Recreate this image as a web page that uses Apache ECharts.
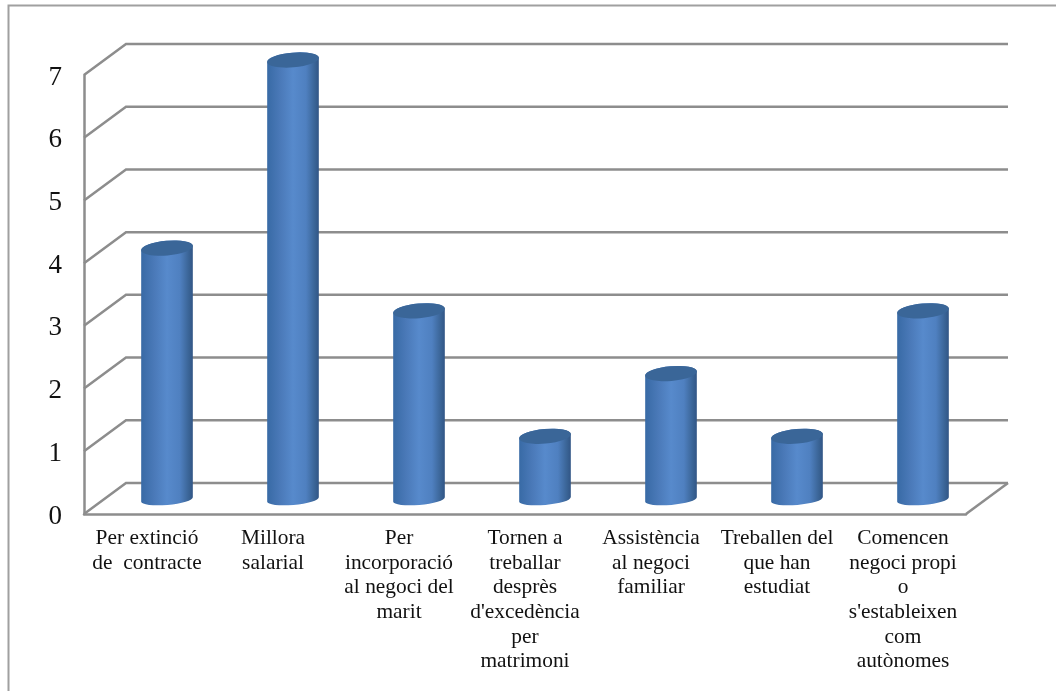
<!DOCTYPE html>
<html><head><meta charset="utf-8">
<style>html,body{margin:0;padding:0;background:#fff}#c{width:1056px;height:691px}</style>
<script src="https://cdn.jsdelivr.net/npm/echarts@6/dist/echarts.min.js"></script>
</head><body><div id="c"></div>
<script>
const categories = ["Per extinció\nde  contracte","Millora\nsalarial","Per\nincorporació\nal negoci del\nmarit","Tornen a\ntreballar\ndesprès\nd'excedència\nper\nmatrimoni","Assistència\nal negoci\nfamiliar","Treballen del\nque han\nestudiat","Comencen\nnegoci propi\no\ns'estableixen\ncom\nautònomes"];
const values = [4,7,3,1,2,1,3];
const yTicks = [0,1,2,3,4,5,6,7];

const FONT = '"Liberation Serif","Times New Roman",serif';
const LINE = '#8d8d8d';
const DX = 42, DY = -31;      // depth of the 3D box
const CX = 20, CY = -15;      // cylinder centre relative to the front plane
const RX = 26, RY = 7, RYB = 5.5, ROT = -5;
const rad = ROT*Math.PI/180;
const ex = RX*Math.cos(rad), ey = RX*Math.sin(rad);
const hw = Math.hypot(RX*Math.cos(rad), RY*Math.sin(rad));
const hh = Math.hypot(RX*Math.sin(rad), RY*Math.cos(rad));
const hhb = Math.hypot(RX*Math.sin(rad), RYB*Math.cos(rad));

const chart = echarts.init(document.getElementById('c'), null, {renderer:'canvas'});
chart.setOption({
  animation:false,
  backgroundColor:'#fff',
  graphic:[{type:'rect',shape:{x:8.5,y:5.5,width:1100,height:750},style:{fill:'none',stroke:'#a0a0a0',lineWidth:2},silent:true}],
  grid:{left:84,top:75,width:882,height:439,containLabel:false},
  xAxis:{type:'category',data:categories,boundaryGap:true,
    axisTick:{show:false},
    axisLine:{show:true,lineStyle:{color:LINE,width:2.5}},
    axisLabel:{interval:0,color:'#111',fontFamily:FONT,fontSize:21.4,lineHeight:24.7,margin:12,align:'center',verticalAlign:'top'}},
  yAxis:{type:'value',min:0,max:7,interval:1,
    axisTick:{show:false},
    axisLine:{show:true,onZero:false,lineStyle:{color:LINE,width:2.5}},
    splitLine:{show:false},
    axisLabel:{color:'#111',fontFamily:FONT,fontSize:27,margin:22,lineHeight:27,verticalAlign:'top',padding:[-11,0,0,0]}},
  series:[
    {type:'custom',coordinateSystem:'cartesian2d',clip:false,z:1,silent:true,
     data:yTicks.map(v=>[0,v]),encode:{x:0,y:1},
     renderItem(params,api){
       const cs=params.coordSys, y=api.coord([0,api.value(1)])[1], v=api.value(1);
       const pts=[[cs.x,y],[cs.x+DX,y+DY],[cs.x+cs.width+DX,y+DY]];
       const kids=[{type:'polyline',shape:{points:pts},style:{fill:'none',stroke:LINE,lineWidth:2.5}}];
       if(v===0) kids.push({type:'line',shape:{x1:cs.x+cs.width,y1:y,x2:cs.x+cs.width+DX,y2:y+DY},style:{stroke:LINE,lineWidth:2.5}});
       return {type:'group',children:kids};
     }},
    {type:'custom',coordinateSystem:'cartesian2d',clip:false,z:3,silent:true,
     data:values.map((v,i)=>[i,v]),encode:{x:0,y:1},
     renderItem(params,api){
       const p=api.coord([api.value(0),api.value(1)]), b=api.coord([api.value(0),0]);
       const cx=p[0]+CX, ty=p[1]+CY, by=b[1]+CY;
       const body=`M${cx-ex} ${ty-ey} L${cx-ex} ${by-ey} A${RX} ${RYB} ${ROT} 0 0 ${cx+ex} ${by+ey} L${cx+ex} ${ty+ey} A${RX} ${RY} ${ROT} 0 0 ${cx-ex} ${ty-ey} Z`;
       const top=`M${cx-ex} ${ty-ey} A${RX} ${RY} ${ROT} 1 1 ${cx+ex} ${ty+ey} A${RX} ${RY} ${ROT} 1 1 ${cx-ex} ${ty-ey} Z`;
       const grad=new echarts.graphic.LinearGradient(0,0,1,0,[
         {offset:0,color:'#386aa5'},{offset:0.25,color:'#4a79b8'},{offset:0.5,color:'#578aCC'},{offset:0.75,color:'#4f80c0'},{offset:0.92,color:'#3a6496'},{offset:1,color:'#315585'}]);
       return {type:'group',children:[
         {type:'path',shape:{pathData:body,layout:'cover',x:cx-hw,y:ty-hh,width:2*hw,height:by-ty+hh+hhb},style:{fill:grad}},
         {type:'path',shape:{pathData:top,layout:'cover',x:cx-hw,y:ty-hh,width:2*hw,height:2*hh},style:{fill:'#3a6698'}}
       ]};
     }}
  ]
});
</script></body></html>
